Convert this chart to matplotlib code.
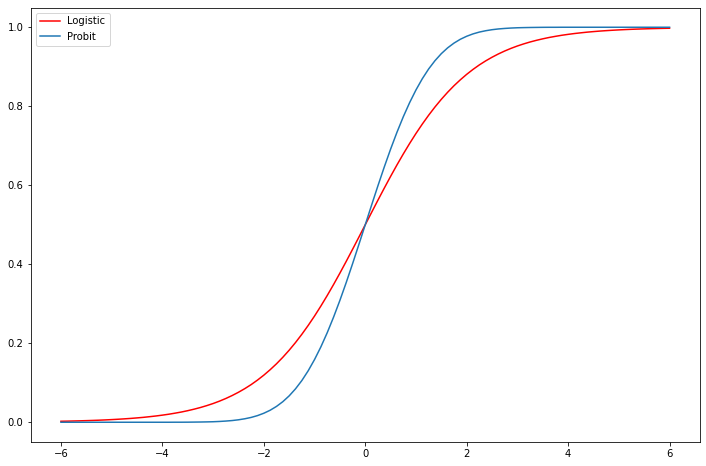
import numpy as np
import matplotlib.pyplot as plt

x = np.arange(-6, 6.001, 0.125)

logistic = [0.0025, 0.0028, 0.0032, 0.0036, 0.0041, 0.0046, 0.0052, 0.0059,
            0.0067, 0.0076, 0.0086, 0.0097, 0.0110, 0.0124, 0.0141, 0.0159,
            0.0180, 0.0203, 0.0230, 0.0259, 0.0293, 0.0331, 0.0373, 0.0421,
            0.0474, 0.0534, 0.0601, 0.0676, 0.0759, 0.0851, 0.0953, 0.1067,
            0.1192, 0.1330, 0.1480, 0.1645, 0.1824, 0.2018, 0.2227, 0.2451,
            0.2689, 0.2942, 0.3208, 0.3486, 0.3775, 0.4073, 0.4378, 0.4688,
            0.5000,
            0.5312, 0.5622, 0.5927, 0.6225, 0.6514, 0.6792, 0.7058, 0.7311,
            0.7549, 0.7773, 0.7982, 0.8176, 0.8355, 0.8520, 0.8670, 0.8808,
            0.8933, 0.9047, 0.9149, 0.9241, 0.9324, 0.9399, 0.9466, 0.9526,
            0.9579, 0.9627, 0.9669, 0.9707, 0.9741, 0.9770, 0.9797, 0.9820,
            0.9841, 0.9859, 0.9876, 0.9890, 0.9903, 0.9914, 0.9924, 0.9933,
            0.9941, 0.9948, 0.9954, 0.9959, 0.9964, 0.9968, 0.9972, 0.9975]

probit = [0.0] * 18 + [
    0.0001, 0.0001, 0.0002, 0.0004, 0.0006, 0.0009, 0.0013,
    0.0020, 0.0030, 0.0043, 0.0062, 0.0088, 0.0122, 0.0168, 0.0228,
    0.0304, 0.0401, 0.0521, 0.0668, 0.0846, 0.1056, 0.1303, 0.1587,
    0.1908, 0.2266, 0.2660, 0.3085, 0.3538, 0.4013, 0.4503,
    0.5000,
    0.5497, 0.5987, 0.6462, 0.6915, 0.7340, 0.7734, 0.8092,
    0.8413, 0.8697, 0.8944, 0.9154, 0.9332, 0.9479, 0.9599, 0.9696,
    0.9772, 0.9832, 0.9878, 0.9912, 0.9938, 0.9957, 0.9970, 0.9980,
    0.9987, 0.9991, 0.9994, 0.9996, 0.9998, 0.9999, 0.9999] + [1.0] * 18

fig = plt.figure(figsize=(706 / 72, 466 / 72), dpi=72)
fig.subplots_adjust(left=30.5 / 706, right=700 / 706, top=1 - 7.5 / 466, bottom=1 - 442 / 466)
ax = fig.add_subplot(111)
ax.plot(x, logistic, color='red', label='Logistic')
ax.plot(x, probit, color='tab:blue', label='Probit')
ax.legend(loc='upper left')
fig.savefig('out.png', dpi=72, facecolor='white')
